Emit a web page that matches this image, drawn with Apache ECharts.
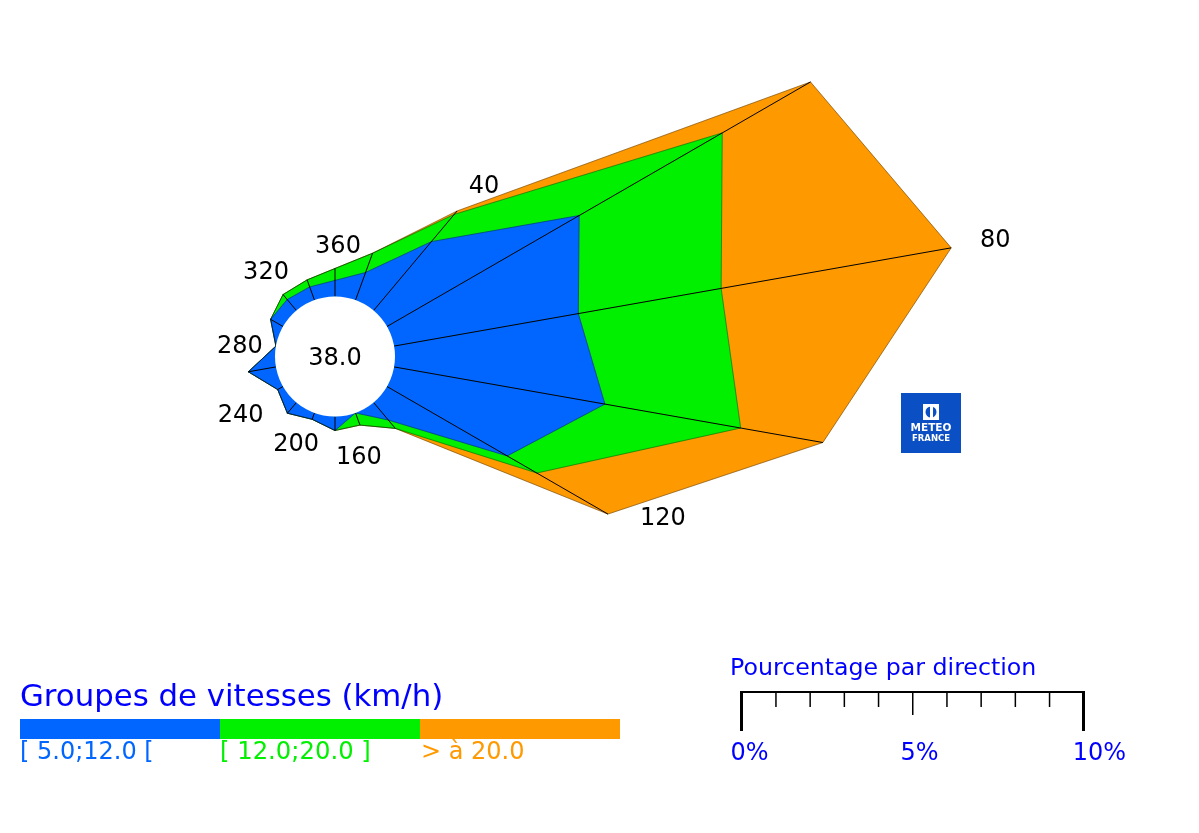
<!DOCTYPE html>
<html>
<head>
<meta charset="utf-8">
<title>Rose des vents</title>
<script src="https://cdn.jsdelivr.net/npm/echarts@6/dist/echarts.min.js"></script>
<style>
html, body { margin: 0; padding: 0; background: #fff; }
#chart { width: 1199px; height: 833px; }
</style>
</head>
<body>
<div id="chart"></div>
<script>
// directions (degrees) and percentage per speed group
var directions = [20, 40, 60, 80, 100, 120, 140, 160, 180, 200, 220, 240, 260, 280, 300, 320, 340, 360];
var group1 = [0.86, 2.63, 6.49, 5.47, 6.26, 4.06, 0.67, 0.00, 0.41, 0.20, 0.41, 0.18, 0.82, 0.00, 0.42, 0.42, 0.41, 0.47];
var group2 = [0.60, 1.04, 4.83, 4.24, 4.03, 1.00, 0.32, 0.38, 0.00, 0.00, 0.00, 0.00, 0.00, 0.00, 0.00, 0.19, 0.22, 0.35];
var group3 = [0.00, 0.13, 2.98, 6.83, 2.44, 2.40, 0.00, 0.00, 0.00, 0.00, 0.00, 0.00, 0.00, 0.00, 0.00, 0.00, 0.00, 0.00];
var calmValue = '38.0';
var groupNames = ['[ 5.0;12.0 [', '[ 12.0;20.0 ]', '> à 20.0'];
var scaleTicks = [0, 1, 2, 3, 4, 5, 6, 7, 8, 9, 10];
var scaleLabels = [0, 5, 10];

var BLUE = '#0066ff', GREEN = '#00f000', ORANGE = '#ff9900', TITLE = '#0000ff';
var FONT = '"DejaVu Sans"';
var centerX = 335, centerY = 356.5, holeRadius = 60, pxPerPercent = 34.2, radiusMax = 20;

// px offset of each direction label from the outer point of its spoke
var labelOffsets = {
	40: [27, -24], 80: [44, -7], 120: [55, 5], 160: [-1, 33], 200: [-16, 25],
	240: [-37, 26], 280: [-36, 1], 320: [-17, -22], 360: [3, -22]
};

var cum1 = group1.slice();
var cum2 = group1.map(function(v, i) { return v + group2[i]; });
var cum3 = cum2.map(function(v, i) { return v + group3[i]; });

function sectorSeries(name, cum, color) {
	return {
		name: name,
		type: 'custom',
		coordinateSystem: 'polar',
		data: directions.map(function(d, i) { return [cum[i], d]; }),
		renderItem: function(params, api) {
			var i = params.dataIndex, j = (i + 1) % directions.length;
			return {
				type: 'polygon',
				shape: { points: [
					api.coord([0, directions[i]]),
					api.coord([cum[i], directions[i]]),
					api.coord([cum[j], directions[j]]),
					api.coord([0, directions[j]])
				] },
				style: { fill: color, stroke: color, lineWidth: 0.5 }
			};
		}
	};
}

function outlineSeries(cum) {
	var pts = directions.map(function(d, i) { return [cum[i], d]; });
	pts.push(pts[0]);
	return {
		type: 'line',
		coordinateSystem: 'polar',
		data: pts,
		clip: false,
		symbol: 'none',
		silent: true,
		lineStyle: { color: '#000', width: 0.6, opacity: 0.6 }
	};
}

var spokeSeries = {
	type: 'custom',
	coordinateSystem: 'polar',
	data: directions.map(function(d, i) { return [cum3[i], d]; }),
	renderItem: function(params, api) {
		var d = api.value(1), a = api.coord([0, d]), b = api.coord([api.value(0), d]);
		return {
			type: 'line',
			shape: { x1: a[0], y1: a[1], x2: b[0], y2: b[1] },
			style: { stroke: '#000', lineWidth: 1 }
		};
	}
};

var labelSeries = {
	type: 'custom',
	coordinateSystem: 'polar',
	data: directions.map(function(d, i) { return [cum3[i], d]; }).filter(function(p) { return labelOffsets[p[1]]; }),
	renderItem: function(params, api) {
		var d = api.value(1), p = api.coord([api.value(0), d]), off = labelOffsets[d];
		return {
			type: 'text',
			x: p[0] + off[0],
			y: p[1] + off[1],
			style: { text: String(d), fill: '#000', font: '24px ' + FONT, textAlign: 'center', textVerticalAlign: 'middle' }
		};
	}
};

function txt(x, y, s, color, size, align) {
	return {
		type: 'text', x: x, y: y, z: 100,
		style: { text: s, fill: color, font: size + 'px ' + FONT, textAlign: align || 'left', textVerticalAlign: 'middle' }
	};
}

function box(x, y, w, h, color) {
	return { type: 'rect', z: 100, shape: { x: x, y: y, width: w, height: h }, style: { fill: color } };
}

var graphics = [
	{ type: 'circle', z: 90, shape: { cx: centerX, cy: centerY, r: holeRadius }, style: { fill: '#fff' } },
	txt(centerX, centerY + 2, calmValue, '#000', 24, 'center'),
	txt(20, 698, 'Groupes de vitesses (km/h)', TITLE, 30.8),
	box(20, 719, 200, 20, BLUE),
	box(220, 719, 200, 20, GREEN),
	box(420, 719, 200, 20, ORANGE),
	txt(20, 753, groupNames[0], BLUE, 24),
	txt(220, 753, groupNames[1], GREEN, 24.3),
	txt(421, 753, groupNames[2], ORANGE, 24),
	txt(730, 669, 'Pourcentage par direction', TITLE, 23.7)
];

// echelle
var scaleX = 741.5, scaleTop = 691;
graphics.push(box(scaleX, scaleTop, pxPerPercent * 10, 2, '#000'));
scaleTicks.forEach(function(t) {
	var x = scaleX + t * pxPerPercent;
	if (t === 0 || t === 10) {
		graphics.push(box(x - 1.5, scaleTop, 3, 40, '#000'));
	} else {
		graphics.push(box(x - 0.5, scaleTop, 1.5, t === 5 ? 24 : 16, '#000'));
	}
});
scaleLabels.forEach(function(t) {
	graphics.push(txt(scaleX + t * pxPerPercent + (t === 10 ? 16 : t === 5 ? 7 : 8), 754, t + '%', TITLE, 24, 'center'));
});

// logo
graphics.push(box(901, 393, 60, 60, '#0a4fc4'));
graphics.push(box(923, 404, 16, 16, '#fff'));
graphics.push({ type: 'circle', z: 101, shape: { cx: 931, cy: 412, r: 5.5 }, style: { fill: '#0a4fc4' } });
graphics.push({ type: 'rect', z: 102, shape: { x: 930, y: 405, width: 3, height: 14 }, style: { fill: '#fff' } });
graphics.push({ type: 'text', x: 931, y: 428, z: 101, style: { text: 'METEO', fill: '#fff', font: 'bold 10.5px ' + FONT, textAlign: 'center', textVerticalAlign: 'middle' } });
graphics.push({ type: 'text', x: 931, y: 439, z: 101, style: { text: 'FRANCE', fill: '#fff', font: 'bold 8.5px ' + FONT, textAlign: 'center', textVerticalAlign: 'middle' } });

var option = {
	animation: false,
	backgroundColor: '#fff',
	polar: { center: [centerX, centerY], radius: [holeRadius, holeRadius + radiusMax * pxPerPercent] },
	angleAxis: { type: 'value', min: 0, max: 360, startAngle: 90, show: false },
	radiusAxis: { type: 'value', min: 0, max: radiusMax, show: false },
	series: [
		sectorSeries(groupNames[2], cum3, ORANGE),
		sectorSeries(groupNames[1], cum2, GREEN),
		sectorSeries(groupNames[0], cum1, BLUE),
		outlineSeries(cum3),
		outlineSeries(cum2),
		outlineSeries(cum1),
		spokeSeries,
		labelSeries
	],
	graphic: graphics
};

var myChart = echarts.init(document.getElementById('chart'));
myChart.setOption(option);
</script>
</body>
</html>
